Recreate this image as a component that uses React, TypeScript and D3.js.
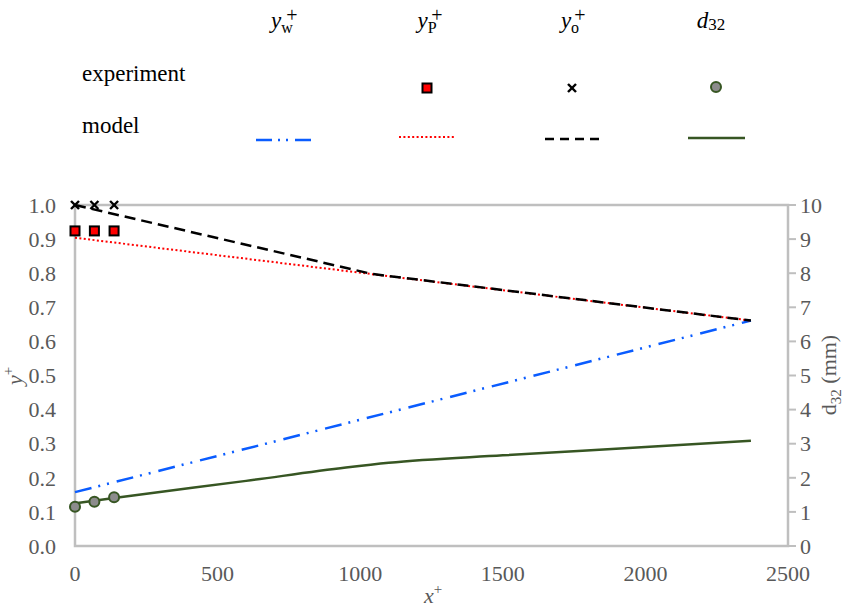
import React from 'react';
import * as d3 from 'd3';

// model curves (x+, value)
const ywModel: [number, number][] = [
  [0, 0.158],
  [2370, 0.661],
];
const ypModel: [number, number][] = [
  [0, 0.904],
  [2370, 0.661],
];
const yoModel: [number, number][] = [
  [0, 1.0],
  [1040, 0.798],
  [2370, 0.661],
];
const d32Model: [number, number][] = [
  [0, 1.25],
  [137, 1.41],
  [600, 1.91],
  [950, 2.3],
  [1100, 2.44],
  [1500, 2.66],
  [2000, 2.9],
  [2370, 3.09],
];

// experiment points
const expX = [0, 68, 137];
const ypExp = [0.924, 0.924, 0.924];
const yoExp = [1.0, 1.0, 1.0];
const d32Exp = [1.15, 1.3, 1.43];

const xTicks = [0, 500, 1000, 1500, 2000, 2500];
const yLeftTicks = d3.range(0, 11).map((i) => i / 10);
const yRightTicks = d3.range(0, 11);

const FONT = 'Liberation Serif';
const GRAY = '#595959';
const AXIS = '#bfbfbf';
const BLUE = '#0a5cff';
const RED = '#ff0000';
const GREEN = '#375623';

const BLUE_DASH = '17,7,2,7,2,8';
const RED_DASH = '2,2.4';
const BLACK_DASH = '11,6';

const txt = (size: number, fill = '#000') => ({ fontFamily: FONT, fontSize: size, fill });

export default function App() {
  const width = 851;
  const height = 607;
  const left = 75;
  const right = 788;
  const top = 205;
  const bottom = 546;

  const x = d3.scaleLinear().domain([0, 2500]).range([left, right]);
  const yL = d3.scaleLinear().domain([0, 1]).range([bottom, top]);
  const yR = d3.scaleLinear().domain([0, 10]).range([bottom, top]);

  const lineL = d3
    .line<[number, number]>()
    .x((d) => x(d[0]))
    .y((d) => yL(d[1]));
  const lineR = d3
    .line<[number, number]>()
    .x((d) => x(d[0]))
    .y((d) => yR(d[1]))
    .curve(d3.curveMonotoneX);

  const cross = (cx: number, cy: number, s: number, key: string) => (
    <g key={key} stroke="#000" strokeWidth={2.4}>
      <line x1={cx - s} y1={cy - s} x2={cx + s} y2={cy + s} />
      <line x1={cx - s} y1={cy + s} x2={cx + s} y2={cy - s} />
    </g>
  );
  const square = (cx: number, cy: number, key: string) => (
    <rect key={key} x={cx - 4.5} y={cy - 4.5} width={9} height={9} fill={RED} stroke="#000" strokeWidth={2} />
  );
  const dot = (cx: number, cy: number, key: string) => (
    <circle key={key} cx={cx} cy={cy} r={5} fill="#8c8c8c" stroke={GREEN} strokeWidth={2} />
  );

  const head = (cx: number, sub: string, key: string) => (
    <g key={key}>
      <text x={cx - 2} y={28} textAnchor="middle" style={txt(23)}>
        <tspan fontStyle="italic">y</tspan>
        <tspan fontSize={16} dy={5}>{sub}</tspan>
      </text>
      <text x={cx + 8} y={22} textAnchor="middle" style={txt(20)}>+</text>
    </g>
  );

  return (
    <svg width={width} height={height} style={{ position: 'absolute', left: 0, top: 0, background: '#fff' }}>
      {/* legend table */}
      {head(284, 'w', 'hw')}
      {head(429, 'P', 'hp')}
      {head(572, 'o', 'ho')}
      <text x={711} y={28} textAnchor="middle" style={txt(23)}>
        <tspan fontStyle="italic">d</tspan>
        <tspan fontSize={17} dy={2}>32</tspan>
      </text>
      <text x={82} y={81} style={txt(23)}>experiment</text>
      <text x={82} y={133} style={txt(23)}>model</text>
      {square(427, 88, 'ls')}
      {cross(572, 88, 4, 'lx')}
      {dot(716, 87, 'lc')}
      <line x1={256} x2={313} y1={140} y2={140} stroke={BLUE} strokeWidth={2.5} strokeDasharray="16,6,2,6,2,7" />
      <line x1={399} x2={455} y1={137} y2={137} stroke={RED} strokeWidth={2} strokeDasharray={RED_DASH} />
      <line x1={545} x2={600} y1={139} y2={139} stroke="#000" strokeWidth={2.5} strokeDasharray="9,6" />
      <line x1={688} x2={745} y1={138} y2={138} stroke={GREEN} strokeWidth={2.5} />

      {/* frame */}
      <rect x={left} y={top} width={right - left} height={bottom - top} fill="none" stroke={AXIS} strokeWidth={2.5} />
      {yRightTicks.map((t) => (
        <line key={'rt' + t} x1={right} x2={right + 8} y1={yR(t)} y2={yR(t)} stroke={AXIS} strokeWidth={2} />
      ))}

      {/* tick labels */}
      {yLeftTicks.map((t) => (
        <text key={'yl' + t} x={56} y={yL(t)} dy="0.35em" textAnchor="end" style={txt(22, GRAY)}>
          {d3.format('.1f')(t)}
        </text>
      ))}
      {yRightTicks.map((t) => (
        <text key={'yr' + t} x={800} y={yR(t)} dy="0.35em" textAnchor="start" style={txt(22, GRAY)}>
          {t}
        </text>
      ))}
      {xTicks.map((t) => (
        <text key={'xt' + t} x={x(t)} y={581} textAnchor="middle" style={txt(22, GRAY)}>
          {t}
        </text>
      ))}

      {/* axis titles */}
      <text x={433} y={603} textAnchor="middle" style={txt(22, GRAY)}>
        <tspan fontStyle="italic">x</tspan>
        <tspan fontSize={15} dy={-9}>+</tspan>
      </text>
      <text transform="translate(22,376) rotate(-90)" textAnchor="middle" style={txt(22, GRAY)}>
        <tspan fontStyle="italic">y</tspan>
        <tspan fontSize={15} dy={-9}>+</tspan>
      </text>
      <text transform="translate(836,375) rotate(-90)" textAnchor="middle" style={txt(22, GRAY)}>
        <tspan>d</tspan>
        <tspan fontSize={15} dy={5}>32</tspan>
        <tspan dy={-5}> (mm)</tspan>
      </text>

      {/* model lines */}
      <path d={lineL(ywModel) ?? ''} fill="none" stroke={BLUE} strokeWidth={2.5} strokeDasharray={BLUE_DASH} />
      <path d={lineL(ypModel) ?? ''} fill="none" stroke={RED} strokeWidth={2} strokeDasharray={RED_DASH} />
      <path d={lineL(yoModel) ?? ''} fill="none" stroke="#000" strokeWidth={2.5} strokeDasharray={BLACK_DASH} />
      <path d={lineR(d32Model) ?? ''} fill="none" stroke={GREEN} strokeWidth={2.5} />

      {/* experiment markers */}
      {expX.map((v, i) => square(x(v), yL(ypExp[i]), 'sq' + i))}
      {expX.map((v, i) => cross(x(v), yL(yoExp[i]), 4, 'cx' + i))}
      {expX.map((v, i) => dot(x(v), yR(d32Exp[i]), 'dc' + i))}
    </svg>
  );
}
